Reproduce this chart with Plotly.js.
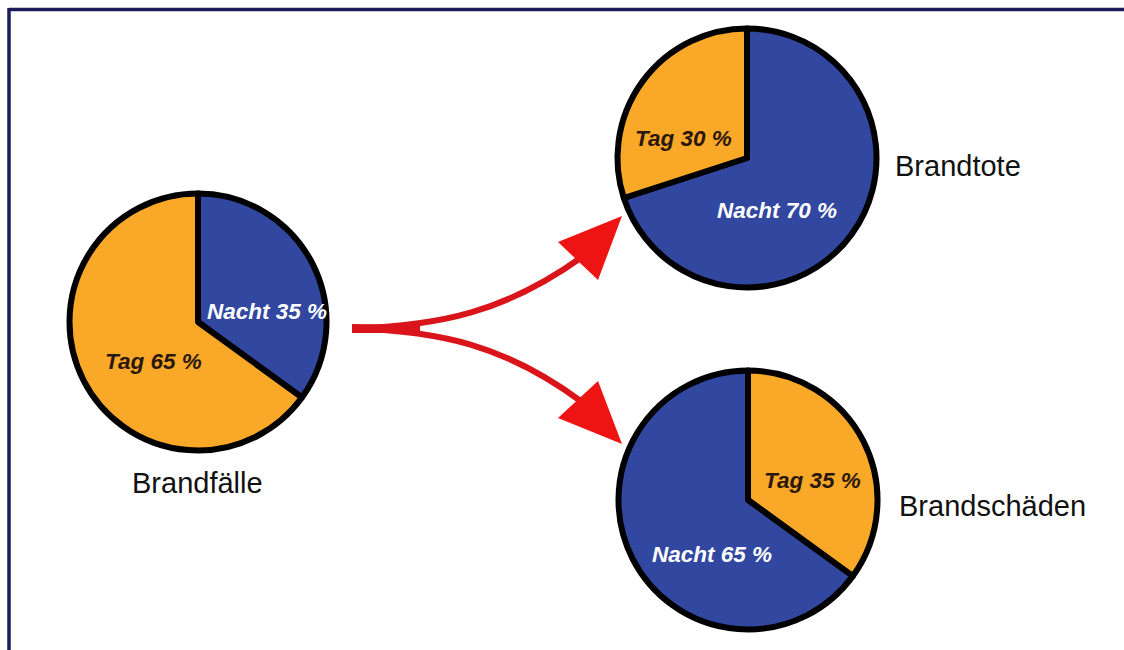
<!DOCTYPE html>
<html>
<head>
<meta charset="utf-8">
<script src="https://cdn.plot.ly/plotly-3.0.1.min.js"></script>
<style>
  html, body { margin: 0; padding: 0; background: #ffffff; }
  #chart { width: 1124px; height: 650px; }
</style>
</head>
<body>
<div id="chart"></div>
<script>
// ---- data ----
const chartTitles = ['Brandfälle', 'Brandtote', 'Brandschäden'];
const labelsFaelle = ['Nacht', 'Tag'];
const valuesFaelle = [35, 65];
const labelsTote = ['Nacht', 'Tag'];
const valuesTote = [70, 30];
const labelsSchaeden = ['Tag', 'Nacht'];
const valuesSchaeden = [35, 65];

// ---- styles ----
const W = 1124, H = 650;
const colorOf = { 'Nacht': '#3248A0', 'Tag': '#FAA828' };
const textColorOf = { 'Nacht': '#FFFFFF', 'Tag': '#2A180C' };
const FONT = 'Arial, "Liberation Sans", sans-serif';

// pie geometry in pixels: center x, center y, radius
const pieGeom = [
  { cx: 198, cy: 322, r: 128.5 },
  { cx: 747, cy: 158, r: 129.5 },
  { cx: 748, cy: 500, r: 129.5 }
];
// inside-label pixel positions (per slice, same order as data)
const labelPos = [
  [{ x: 267, y: 311 }, { x: 153, y: 361 }],
  [{ x: 777, y: 210 }, { x: 683, y: 138 }],
  [{ x: 812, y: 480 }, { x: 712, y: 554 }]
];
const titlePos = [
  { x: 197, y: 483 },
  { x: 958, y: 166 },
  { x: 992, y: 506 }
];

const series = [
  { labels: labelsFaelle, values: valuesFaelle },
  { labels: labelsTote, values: valuesTote },
  { labels: labelsSchaeden, values: valuesSchaeden }
];

const traces = series.map((s, i) => {
  const g = pieGeom[i];
  return {
    type: 'pie',
    labels: s.labels,
    values: s.values,
    sort: false,
    direction: 'clockwise',
    rotation: 0,
    textinfo: 'none',
    hoverinfo: 'label+value',
    showlegend: false,
    marker: {
      colors: s.labels.map(l => colorOf[l]),
      line: { color: '#000000', width: 6 }
    },
    domain: {
      x: [(g.cx - g.r) / W, (g.cx + g.r) / W],
      y: [(H - g.cy - g.r) / H, (H - g.cy + g.r) / H]
    }
  };
});

const annotations = [];
series.forEach((s, i) => {
  s.labels.forEach((l, j) => {
    annotations.push({
      xref: 'x', yref: 'y',
      x: labelPos[i][j].x, y: labelPos[i][j].y,
      text: '<b><i>' + l + ' ' + s.values[j] + ' %</i></b>',
      showarrow: false,
      xanchor: 'center', yanchor: 'middle',
      font: { family: FONT, size: 22.5, color: textColorOf[l] }
    });
  });
  annotations.push({
    xref: 'x', yref: 'y',
    x: titlePos[i].x, y: titlePos[i].y,
    text: chartTitles[i],
    showarrow: false,
    xanchor: 'center', yanchor: 'middle',
    font: { family: FONT, size: 29, color: '#111111' }
  });
});

const RED_SHAFT = '#D9151B';
const RED_HEAD = '#EE1414';
const shapes = [
  // frame
  { type: 'line', xref: 'x', yref: 'y', x0: 9, y0: 9.5, x1: 1124, y1: 9.5, line: { color: '#1C1C5A', width: 3.5 } },
  { type: 'line', xref: 'x', yref: 'y', x0: 9, y0: 8, x1: 9, y1: 650, line: { color: '#1C1C5A', width: 3.5 } },
  // tapered start
  { type: 'path', xref: 'x', yref: 'y', path: 'M 352 324 L 420 325 L 420 333 L 352 333 Z', fillcolor: RED_SHAFT, line: { width: 0 } },
  // upper shaft
  { type: 'path', xref: 'x', yref: 'y', path: 'M 353 328.5 C 440 326 505 312 582 257', line: { color: RED_SHAFT, width: 6 } },
  // lower shaft
  { type: 'path', xref: 'x', yref: 'y', path: 'M 353 328.5 C 440 331 505 345 582 402', line: { color: RED_SHAFT, width: 6 } },
  // heads
  { type: 'path', xref: 'x', yref: 'y', path: 'M 622 216 L 558 242 L 598 280 Z', fillcolor: RED_HEAD, line: { width: 0 } },
  { type: 'path', xref: 'x', yref: 'y', path: 'M 622 444 L 558 418 L 598 381 Z', fillcolor: RED_HEAD, line: { width: 0 } }
];

const layout = {
  width: W, height: H,
  margin: { l: 0, r: 0, t: 0, b: 0, pad: 0 },
  paper_bgcolor: '#FFFFFF',
  plot_bgcolor: 'rgba(0,0,0,0)',
  xaxis: { range: [0, W], visible: false, fixedrange: true },
  yaxis: { range: [H, 0], visible: false, fixedrange: true },
  shapes: shapes,
  annotations: annotations,
  showlegend: false
};

Plotly.newPlot('chart', traces, layout, { displayModeBar: false, staticPlot: true });
</script>
</body>
</html>
